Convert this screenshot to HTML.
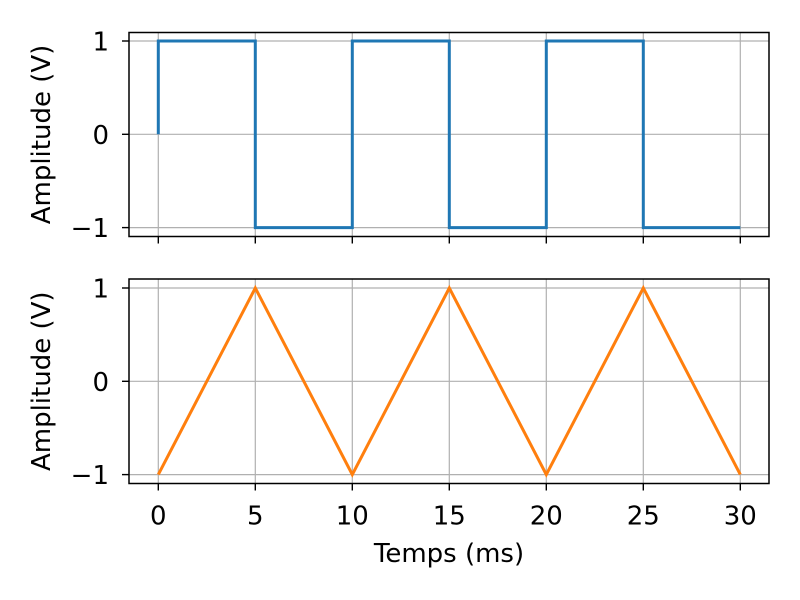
<!DOCTYPE html>
<html><head><meta charset="utf-8"><style>
body{margin:0;background:#fff}
svg{display:block;font-family:"DejaVu Sans","Liberation Sans",sans-serif}
</style></head><body>
<svg id="c" width="800" height="600" viewBox="0 0 800 600"></svg>
<script>
const squareT=[0,0,5,5,10,10,15,15,20,20,25,25,30];
const squareV=[0,1,1,-1,-1,1,1,-1,-1,1,1,-1,-1];
const triT=[0,5,10,15,20,25,30];
const triV=[-1,1,-1,1,-1,1,-1];
const xTicks=[0,5,10,15,20,25,30];
const yTicks=[-1,0,1];
const yTickLabels=["\u22121","0","1"];
const NS="http://www.w3.org/2000/svg";
const svg=document.getElementById('c');
const X0=129,X1=769,FS=26;
const xs=t=>158.3+t*19.4;
function mk(tag,attrs,parent){const e=document.createElementNS(NS,tag);for(const k in attrs)e.setAttribute(k,attrs[k]);(parent||svg).appendChild(e);return e;}
function panel(top,bottom,yOne,T,V,color,name,showXLabels){
  const ys=v=>yOne+(1-v)*93.3;
  const g=mk('g',{});
  
  
  xTicks.forEach(t=>{const l=mk('line',{x1:xs(t),x2:xs(t),y1:top,y2:bottom,stroke:'#b0b0b0','stroke-width':1.2},g);
    
    const tk=mk('line',{x1:xs(t),x2:xs(t),y1:bottom,y2:bottom+7,stroke:'#000','stroke-width':1.4},g);
    
    if(showXLabels){const tx=mk('text',{x:xs(t),y:bottom+41,'text-anchor':'middle',style:`font-size:${FS}px`},g);tx.textContent=t;
      }
  });
  yTicks.forEach((v,i)=>{const l=mk('line',{x1:X0,x2:X1,y1:ys(v),y2:ys(v),stroke:'#b0b0b0','stroke-width':1.2},g);
    
    const tk=mk('line',{x1:X0-7,x2:X0,y1:ys(v),y2:ys(v),stroke:'#000','stroke-width':1.4},g);
    
    const tx=mk('text',{x:X0-20,y:ys(v)+9.5,'text-anchor':'end',style:`font-size:${FS}px`},g);tx.textContent=yTickLabels[i];
    
  });
  const pts=T.map((t,i)=>xs(t)+','+ys(V[i])).join(' ');
  const pl=mk('polyline',{points:pts,fill:'none',stroke:color,'stroke-width':3,'stroke-linejoin':'miter'},g);
  
  const fr=mk('rect',{x:X0,y:top,width:X1-X0,height:bottom-top,fill:'none',stroke:'#000','stroke-width':1.5},g);
  
  const yl=mk('text',{x:0,y:0,'text-anchor':'middle',style:`font-size:${FS}px`,transform:`translate(50,${(top+bottom)/2}) rotate(-90)`},g);
  yl.textContent='Amplitude (V)';
  
}
panel(32.5,236.5,41,squareT,squareV,'#1f77b4','square-wave',false);
panel(279,483.5,288,triT,triV,'#ff7f0e','triangle-wave',true);
const xl=mk('text',{x:449,y:562,'text-anchor':'middle',style:`font-size:${FS}px`});
xl.textContent='Temps (ms)';


</script>
</body></html>
